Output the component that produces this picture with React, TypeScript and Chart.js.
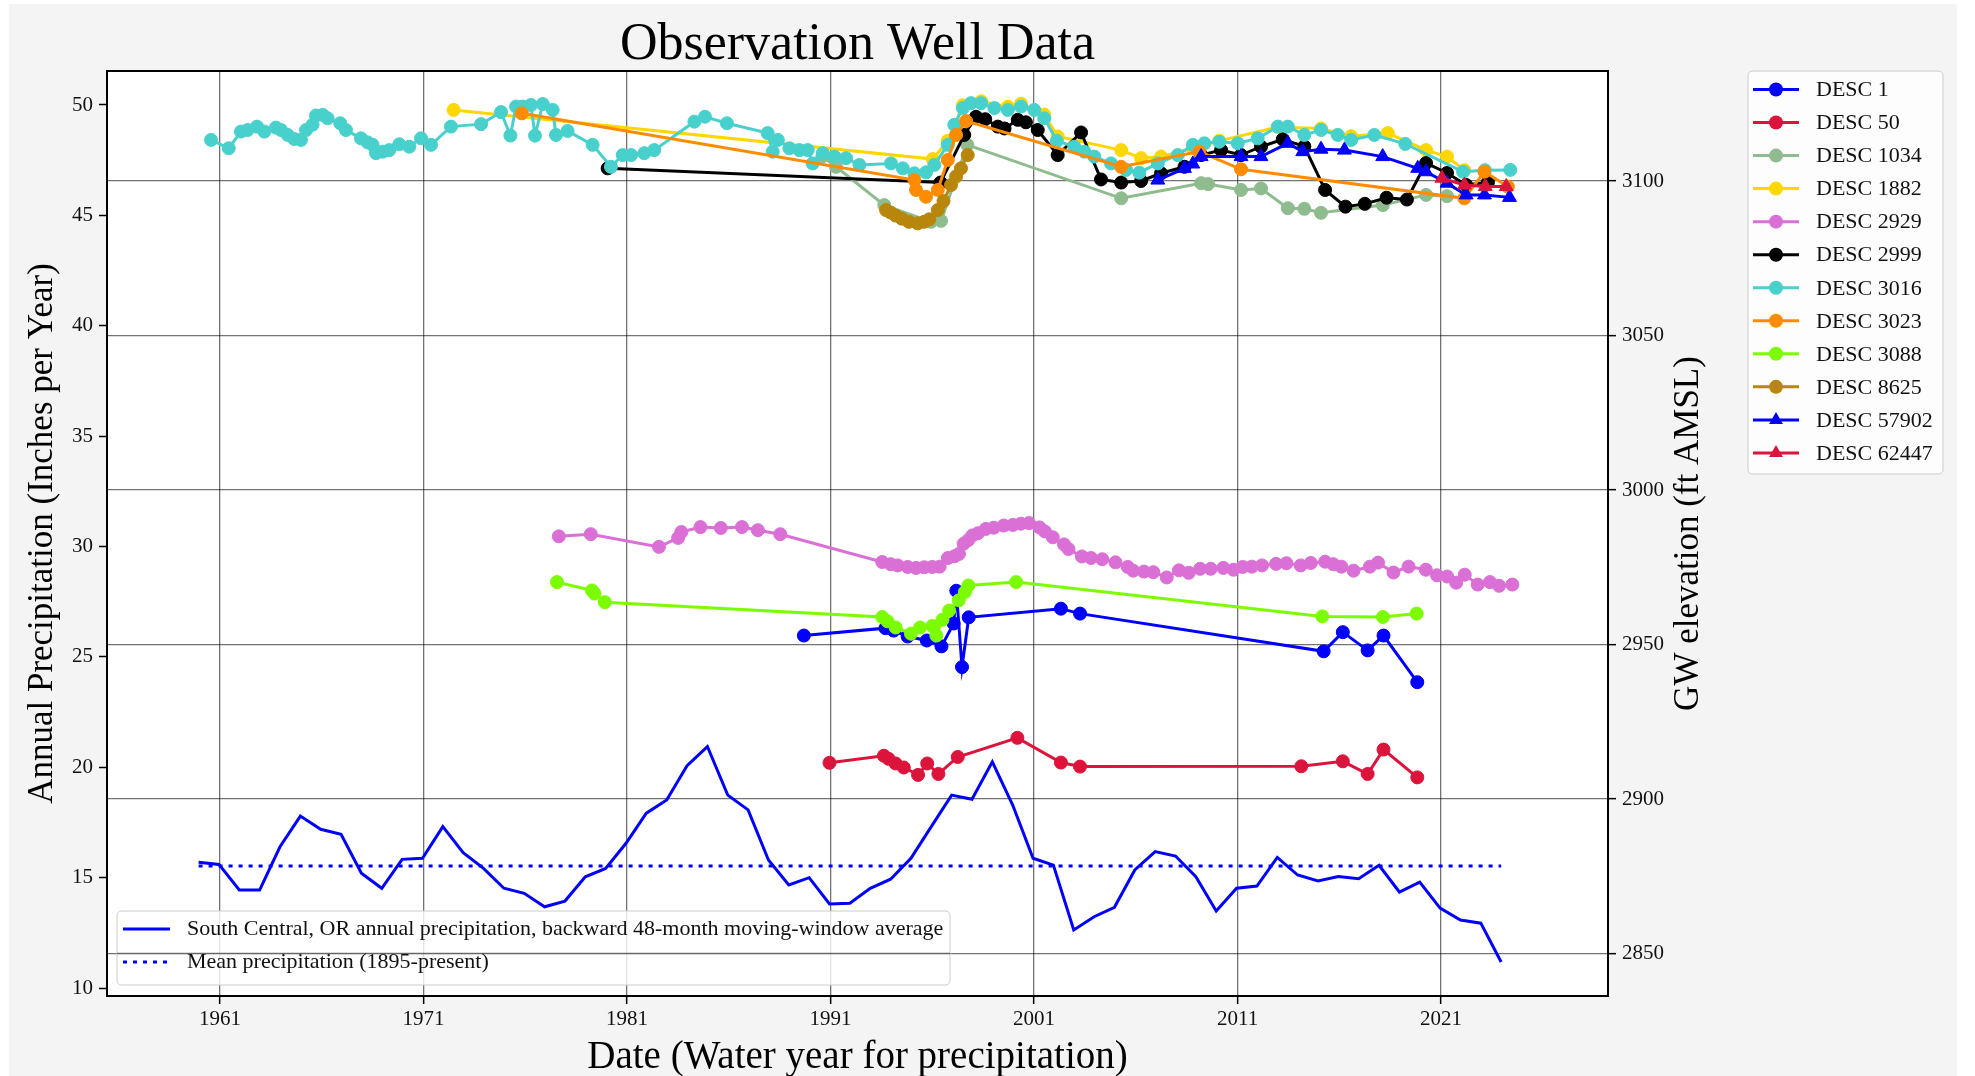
import React, { useEffect, useRef } from 'react';
import { Chart, registerables } from 'chart.js';

Chart.register(...registerables);

const W = 1975;
const H = 1076;
const SERIF = '"Liberation Serif", "Times New Roman", Times, serif';
const FIG_BG = '#f4f4f4';
const GRID = 'rgba(0,0,0,0.55)';

// ---------- axes ----------
const xTicks = [1961, 1971, 1981, 1991, 2001, 2011, 2021];
const precipTicks = [10, 15, 20, 25, 30, 35, 40, 45, 50];
const elevTicks = [2850, 2900, 2950, 3000, 3050, 3100];

// ---------- precipitation (left axis) ----------
const precipYears = [
  1959.95, 1960.95, 1961.95, 1962.95, 1963.95, 1964.95, 1965.95, 1966.95, 1967.95, 1968.95,
  1969.95, 1970.95, 1971.95, 1972.95, 1973.95, 1974.95, 1975.95, 1976.95, 1977.95, 1978.95,
  1979.95, 1980.95, 1981.95, 1982.95, 1983.95, 1984.95, 1985.95, 1986.95, 1987.95, 1988.95,
  1989.95, 1990.95, 1991.95, 1992.95, 1993.95, 1994.95, 1995.95, 1996.95, 1997.95, 1998.95,
  1999.95, 2000.95, 2001.95, 2002.95, 2003.95, 2004.95, 2005.95, 2006.95, 2007.95, 2008.95,
  2009.95, 2010.95, 2011.95, 2012.95, 2013.95, 2014.95, 2015.95, 2016.95, 2017.95, 2018.95,
  2019.95, 2020.95, 2021.95, 2022.95, 2023.95,
];
const precipValues = [
  15.70, 15.60, 14.44, 14.44, 16.40, 17.79, 17.19, 16.96, 15.20, 14.52,
  15.83, 15.88, 17.31, 16.13, 15.42, 14.52, 14.29, 13.68, 13.94, 15.04,
  15.42, 16.56, 17.92, 18.52, 20.07, 20.94, 18.74, 18.07, 15.80, 14.67,
  15.00, 13.81, 13.84, 14.52, 14.93, 15.88, 17.31, 18.74, 18.55, 20.25,
  18.29, 15.88, 15.57, 12.63, 13.23, 13.66, 15.35, 16.18, 15.98, 15.04,
  13.49, 14.52, 14.62, 15.92, 15.12, 14.85, 15.05, 14.95, 15.56, 14.35,
  14.80, 13.62, 13.08, 12.94, 11.18,
];
const meanPrecipYears = [1959.95, 2023.95];
const meanPrecipValue = 15.53;

// ---------- wells (right axis, ft AMSL) ----------
const desc1Years = [1989.69, 1993.70, 1994.10, 1994.79, 1995.73, 1996.45, 1997.05, 1997.18, 1997.46, 1997.79, 2002.32, 2003.26, 2015.23, 2016.17, 2017.39, 2018.17, 2019.83];
const desc1Elev = [2952.9, 2955.3, 2954.5, 2952.6, 2951.3, 2949.4, 2956.8, 2967.4, 2942.7, 2958.8, 2961.6, 2960.0, 2947.8, 2954.0, 2948.1, 2952.9, 2937.8];

const desc50Years = [1990.95, 1993.62, 1993.85, 1994.20, 1994.60, 1995.30, 1995.75, 1996.30, 1997.25, 2000.18, 2002.32, 2003.26, 2014.13, 2016.17, 2017.39, 2018.17, 2019.83];
const desc50Elev = [2911.7, 2914.0, 2913.0, 2911.5, 2910.2, 2907.8, 2911.5, 2908.1, 2913.6, 2919.8, 2911.8, 2910.5, 2910.6, 2912.2, 2908.1, 2916.0, 2907.0];

const desc1034Years = [1990.60, 1991.27, 1993.64, 1995.94, 1996.43, 1997.72, 2005.28, 2009.21, 2009.55, 2011.17, 2012.15, 2013.47, 2014.28, 2015.10, 2018.14, 2020.26, 2021.29];
const desc1034Elev = [3108.0, 3104.6, 3092.2, 3086.8, 3087.1, 3111.7, 3094.4, 3099.3, 3099.0, 3097.1, 3097.6, 3091.2, 3091.0, 3089.7, 3092.2, 3095.5, 3095.1];

const desc1882Years = [1972.48, 1996.02, 1996.76, 1997.50, 1998.40, 1999.71, 2000.36, 2001.50, 2002.16, 2005.28, 2006.26, 2007.24, 2008.80, 2010.10, 2012.98, 2015.10, 2016.58, 2018.38, 2020.26, 2021.29, 2022.14];
const desc1882Elev = [3123.0, 3107.1, 3113.0, 3124.5, 3125.8, 3124.0, 3125.0, 3121.5, 3114.4, 3110.0, 3107.4, 3107.9, 3110.5, 3113.0, 3117.5, 3117.0, 3114.5, 3115.5, 3110.0, 3107.9, 3103.5];

const desc2929Years = [
  1977.65, 1979.22, 1982.57, 1983.51, 1983.67, 1984.61, 1985.61, 1986.65, 1987.43, 1988.53,
  1993.54, 1993.95, 1994.30, 1994.79, 1995.20, 1995.60, 1996.00, 1996.36, 1996.77, 1997.10,
  1997.31, 1997.54, 1997.77, 1997.97, 1998.24, 1998.63, 1999.02, 1999.51, 1999.96, 2000.35,
  2000.75, 2001.27, 2001.53, 2001.92, 2002.47, 2002.69, 2003.35, 2003.80, 2004.35, 2005.00,
  2005.60, 2005.87, 2006.40, 2006.86, 2007.52, 2008.12, 2008.60, 2009.16, 2009.68, 2010.30,
  2010.80, 2011.25, 2011.70, 2012.20, 2012.89, 2013.40, 2014.10, 2014.60, 2015.30, 2015.70,
  2016.10, 2016.70, 2017.50, 2017.90, 2018.66, 2019.40, 2020.25, 2020.80, 2021.30, 2021.74,
  2022.16, 2022.80, 2023.40, 2023.85, 2024.50,
];
const desc2929Elev = [
  2985.0, 2985.7, 2981.6, 2984.5, 2986.4, 2988.0, 2987.7, 2988.0, 2987.0, 2985.7,
  2976.7, 2976.0, 2975.6, 2975.1, 2974.8, 2975.0, 2975.1, 2975.2, 2978.0, 2978.6,
  2979.3, 2982.6, 2983.8, 2985.3, 2986.0, 2987.4, 2987.8, 2988.5, 2988.7, 2989.1,
  2989.3, 2987.9, 2986.6, 2984.7, 2982.4, 2980.9, 2978.5, 2978.0, 2977.6, 2976.6,
  2975.1, 2973.9, 2973.6, 2973.4, 2971.7, 2974.0, 2973.2, 2974.5, 2974.5, 2974.8,
  2974.2, 2975.1, 2975.2, 2975.6, 2976.1, 2976.3, 2975.6, 2976.4, 2976.8, 2976.0,
  2975.2, 2973.9, 2975.2, 2976.5, 2973.3, 2975.2, 2974.2, 2972.4, 2972.0, 2970.0,
  2972.6, 2969.4, 2970.2, 2969.0, 2969.4,
];

const desc2999Years = [1980.05, 1996.40, 1997.57, 1998.15, 1998.60, 1999.22, 1999.55, 2000.20, 2000.60, 2001.18, 2002.16, 2003.31, 2004.29, 2005.28, 2006.26, 2007.24, 2008.39, 2009.21, 2010.19, 2011.17, 2012.15, 2013.22, 2014.28, 2015.30, 2016.30, 2017.25, 2018.32, 2019.32, 2020.26, 2021.29, 2022.23, 2023.30];
const desc2999Elev = [3104.1, 3099.5, 3114.9, 3120.8, 3120.0, 3117.6, 3117.0, 3119.8, 3119.0, 3116.5, 3108.4, 3115.7, 3100.5, 3099.5, 3100.0, 3102.5, 3104.6, 3108.4, 3110.0, 3108.4, 3111.1, 3113.5, 3111.2, 3097.1, 3091.7, 3092.6, 3094.6, 3094.0, 3105.8, 3102.6, 3098.7, 3099.6];

const desc3016Years = [
  1960.56, 1961.43, 1962.03, 1962.36, 1962.82, 1963.18, 1963.75, 1964.00, 1964.33, 1964.65,
  1964.98, 1965.23, 1965.55, 1965.72, 1966.05, 1966.29, 1966.91, 1967.19, 1967.93, 1968.26,
  1968.50, 1968.67, 1969.00, 1969.32, 1969.81, 1970.30, 1970.88, 1971.37, 1972.35, 1973.83,
  1974.81, 1975.27, 1975.55, 1975.87, 1976.28, 1976.48, 1976.86, 1977.35, 1977.51, 1978.08,
  1979.31, 1980.21, 1980.79, 1981.20, 1981.85, 1982.34, 1984.31, 1984.83, 1985.91, 1987.91,
  1988.16, 1988.41, 1988.98, 1989.47, 1989.88, 1990.12, 1990.62, 1991.19, 1991.76, 1992.42,
  1993.97, 1994.55, 1995.12, 1995.69, 1996.10, 1996.76, 1997.08, 1997.50, 1997.90, 1998.40,
  1999.05, 1999.71, 2000.36, 2001.01, 2001.50, 2002.12, 2002.98, 2003.47, 2003.96, 2004.78,
  2005.52, 2006.17, 2007.08, 2008.06, 2008.80, 2009.37, 2010.10, 2011.01, 2011.99, 2012.98,
  2013.47, 2014.28, 2015.10, 2015.92, 2016.58, 2017.72, 2019.24, 2022.08, 2023.15, 2024.40,
];
const desc3016Elev = [
  3113.3, 3110.6, 3116.0, 3116.5, 3117.6, 3116.0, 3117.3, 3116.5, 3114.9, 3113.6,
  3113.3, 3116.5, 3118.2, 3121.2, 3121.4, 3120.3, 3118.7, 3116.5, 3113.8, 3112.5,
  3111.7, 3109.0, 3109.5, 3110.0, 3111.9, 3111.1, 3113.8, 3111.7, 3117.6, 3118.4,
  3122.3, 3114.7, 3124.1, 3124.1, 3124.6, 3114.7, 3124.9, 3123.0, 3114.9, 3116.2,
  3111.7, 3104.6, 3108.4, 3108.4, 3109.0, 3110.0, 3119.2, 3120.8, 3118.7, 3115.5,
  3109.5, 3113.3, 3110.6, 3110.0, 3110.0, 3105.7, 3109.0, 3107.9, 3107.4, 3105.2,
  3105.7, 3104.1, 3102.5, 3102.8, 3105.2, 3111.7, 3118.2, 3123.6, 3125.2, 3125.2,
  3123.6, 3123.0, 3124.1, 3123.0, 3120.3, 3113.0, 3111.1, 3109.5, 3107.9, 3105.7,
  3103.6, 3102.7, 3105.7, 3108.4, 3111.7, 3112.2, 3112.7, 3112.2, 3113.8, 3117.6,
  3117.6, 3114.9, 3116.5, 3114.9, 3113.3, 3114.9, 3112.0, 3103.0, 3103.5, 3103.6,
];

const desc3023Years = [1975.83, 1995.12, 1995.20, 1995.69, 1996.27, 1996.76, 1997.17, 1997.66, 2005.28, 2009.12, 2011.17, 2022.14, 2023.13, 2024.28];
const desc3023Elev = [3121.9, 3100.3, 3097.1, 3094.9, 3097.1, 3106.8, 3114.9, 3119.4, 3104.6, 3109.5, 3103.8, 3094.4, 3103.0, 3098.2];

const desc3088Years = [1977.56, 1979.28, 1979.40, 1979.91, 1993.54, 1993.80, 1994.20, 1994.95, 1995.40, 1996.00, 1996.20, 1996.50, 1996.83, 1997.30, 1997.60, 1997.77, 2000.12, 2015.16, 2018.14, 2019.80];
const desc3088Elev = [2970.2, 2967.5, 2966.5, 2963.7, 2958.9, 2957.5, 2955.5, 2953.5, 2955.5, 2956.0, 2952.9, 2958.0, 2961.0, 2964.3, 2967.0, 2969.1, 2970.2, 2959.1, 2958.9, 2960.0];

const desc8625Years = [1993.73, 1993.95, 1994.20, 1994.50, 1994.85, 1995.28, 1995.60, 1995.85, 1996.27, 1996.55, 1996.92, 1997.17, 1997.41, 1997.74];
const desc8625Elev = [3090.6, 3089.8, 3088.8, 3087.8, 3086.8, 3086.3, 3086.8, 3087.6, 3090.6, 3093.5, 3098.7, 3101.5, 3104.1, 3108.4];

const desc57902Years = [2007.08, 2008.39, 2008.80, 2009.21, 2011.17, 2012.15, 2013.47, 2014.20, 2015.10, 2016.25, 2018.13, 2019.85, 2020.26, 2021.29, 2022.23, 2023.13, 2024.36];
const desc57902Elev = [3100.3, 3104.1, 3105.5, 3107.9, 3107.9, 3107.9, 3112.2, 3109.5, 3110.3, 3110.0, 3107.9, 3104.1, 3103.0, 3099.3, 3095.5, 3095.5, 3094.7];

const desc62447Years = [2021.04, 2022.15, 2023.17, 2024.20];
const desc62447Elev = [3100.9, 3098.7, 3098.2, 3098.2];

type Well = { label: string; years: number[]; elev: number[]; color: string; marker: 'circle' | 'triangle' };
const wells: Well[] = [
  { label: 'DESC 1', years: desc1Years, elev: desc1Elev, color: '#0000ff', marker: 'circle' },
  { label: 'DESC 50', years: desc50Years, elev: desc50Elev, color: '#dc143c', marker: 'circle' },
  { label: 'DESC 1034', years: desc1034Years, elev: desc1034Elev, color: '#8fbc8f', marker: 'circle' },
  { label: 'DESC 1882', years: desc1882Years, elev: desc1882Elev, color: '#ffd700', marker: 'circle' },
  { label: 'DESC 2929', years: desc2929Years, elev: desc2929Elev, color: '#da70d6', marker: 'circle' },
  { label: 'DESC 2999', years: desc2999Years, elev: desc2999Elev, color: '#000000', marker: 'circle' },
  { label: 'DESC 3016', years: desc3016Years, elev: desc3016Elev, color: '#48d1cc', marker: 'circle' },
  { label: 'DESC 3023', years: desc3023Years, elev: desc3023Elev, color: '#ff8c00', marker: 'circle' },
  { label: 'DESC 3088', years: desc3088Years, elev: desc3088Elev, color: '#7cfc00', marker: 'circle' },
  { label: 'DESC 8625', years: desc8625Years, elev: desc8625Elev, color: '#b8860b', marker: 'circle' },
  { label: 'DESC 57902', years: desc57902Years, elev: desc57902Elev, color: '#0000ff', marker: 'triangle' },
  { label: 'DESC 62447', years: desc62447Years, elev: desc62447Elev, color: '#dc143c', marker: 'triangle' },
];

const precipLabel = 'South Central, OR annual precipitation, backward 48-month moving-window average';
const meanLabel = 'Mean precipitation (1895-present)';

const pts = (xs: number[], ys: number[]) => xs.map((x, i) => ({ x, y: ys[i] }));

const CIRCLE_R = 6.5;
const TRI_R = 8;
const LINE_W = 3;

function drawMarker(ctx: CanvasRenderingContext2D, style: string, x: number, y: number, color: string) {
  ctx.beginPath();
  if (style === 'triangle') {
    let rad = 0;
    const step = (2 * Math.PI) / 3;
    ctx.moveTo(x + Math.sin(rad) * TRI_R, y - Math.cos(rad) * TRI_R);
    rad += step;
    ctx.lineTo(x + Math.sin(rad) * TRI_R, y - Math.cos(rad) * TRI_R);
    rad += step;
    ctx.lineTo(x + Math.sin(rad) * TRI_R, y - Math.cos(rad) * TRI_R);
    ctx.closePath();
  } else {
    ctx.arc(x, y, CIRCLE_R + 0.5, 0, Math.PI * 2);
  }
  ctx.fillStyle = color;
  ctx.fill();
}

function roundRect(ctx: CanvasRenderingContext2D, x: number, y: number, w: number, h: number, r: number) {
  ctx.beginPath();
  ctx.moveTo(x + r, y);
  ctx.lineTo(x + w - r, y);
  ctx.quadraticCurveTo(x + w, y, x + w, y + r);
  ctx.lineTo(x + w, y + h - r);
  ctx.quadraticCurveTo(x + w, y + h, x + w - r, y + h);
  ctx.lineTo(x + r, y + h);
  ctx.quadraticCurveTo(x, y + h, x, y + h - r);
  ctx.lineTo(x, y + r);
  ctx.quadraticCurveTo(x, y, x + r, y);
  ctx.closePath();
}

const decorPlugin = {
  id: 'decor',
  beforeDraw(chart: any) {
    const { ctx, chartArea: a } = chart;
    ctx.save();
    ctx.fillStyle = '#ffffff';
    ctx.fillRect(0, 0, W, H);
    ctx.fillStyle = FIG_BG;
    ctx.fillRect(9, 4, 1948, H - 4);
    ctx.fillStyle = '#ffffff';
    ctx.fillRect(a.left, a.top, a.right - a.left, a.bottom - a.top);
    ctx.restore();
  },
  beforeDatasetsDraw(chart: any) {
    const { ctx, chartArea: a } = chart;
    // precipitation legend (lower left, inside plot)
    const bx = a.left + 10;
    const by = a.bottom - 85;
    const bw = 833;
    const bh = 74;
    ctx.save();
    roundRect(ctx, bx, by, bw, bh, 5);
    ctx.fillStyle = 'rgba(255,255,255,0.8)';
    ctx.fill();
    ctx.strokeStyle = '#cccccc';
    ctx.lineWidth = 1;
    ctx.stroke();
    // right-axis gridline shows through (drawn above in the original)
    const gy = chart.scales.y2.getPixelForValue(2850);
    ctx.beginPath();
    ctx.moveTo(bx, gy);
    ctx.lineTo(bx + bw, gy);
    ctx.strokeStyle = GRID;
    ctx.lineWidth = 1.3;
    ctx.stroke();
    const rows = [by + 18, by + 51];
    ctx.strokeStyle = '#0000ff';
    ctx.lineWidth = LINE_W;
    ctx.beginPath();
    ctx.moveTo(bx + 6, rows[0]);
    ctx.lineTo(bx + 53, rows[0]);
    ctx.stroke();
    ctx.setLineDash([4, 6]);
    ctx.lineWidth = 3;
    ctx.beginPath();
    ctx.moveTo(bx + 6, rows[1]);
    ctx.lineTo(bx + 53, rows[1]);
    ctx.stroke();
    ctx.setLineDash([]);
    ctx.fillStyle = '#111';
    ctx.font = `22px ${SERIF}`;
    ctx.textAlign = 'left';
    ctx.textBaseline = 'middle';
    ctx.fillText(precipLabel, bx + 70, rows[0]);
    ctx.fillText(meanLabel, bx + 70, rows[1]);
    ctx.restore();
  },
  afterDatasetsDraw(chart: any) {
    const { ctx, chartArea: a } = chart;
    ctx.save();
    ctx.strokeStyle = '#000';
    ctx.lineWidth = 2;
    ctx.strokeRect(a.left, a.top, a.right - a.left, a.bottom - a.top);
    ctx.restore();
  },
  afterDraw(chart: any) {
    const { ctx, chartArea: a } = chart;
    const cx = (a.left + a.right) / 2;
    const cy = (a.top + a.bottom) / 2;
    ctx.save();
    ctx.fillStyle = '#000';
    ctx.textAlign = 'center';
    ctx.textBaseline = 'alphabetic';
    ctx.font = `52px ${SERIF}`;
    ctx.fillText('Observation Well Data', cx, 59);
    ctx.font = `39px ${SERIF}`;
    ctx.fillText('Date (Water year for precipitation)', cx, 1068);

    ctx.font = `35px ${SERIF}`;
    ctx.textBaseline = 'middle';
    ctx.save();
    ctx.translate(43, cy);
    ctx.rotate(-Math.PI / 2);
    ctx.fillText('Annual Precipitation (Inches per Year)', 0, 0);
    ctx.restore();
    ctx.save();
    ctx.translate(1689, cy);
    ctx.rotate(-Math.PI / 2);
    ctx.fillText('GW elevation (ft AMSL)', 0, 0);
    ctx.restore();

    // wells legend (outside, upper right)
    const lx = 1748;
    const ly = 71;
    const lw = 195;
    const lh = 403;
    roundRect(ctx, lx, ly, lw, lh, 5);
    ctx.fillStyle = 'rgba(255,255,255,0.8)';
    ctx.fill();
    ctx.strokeStyle = '#cccccc';
    ctx.lineWidth = 1;
    ctx.stroke();
    ctx.font = `22px ${SERIF}`;
    ctx.textAlign = 'left';
    ctx.textBaseline = 'middle';
    wells.forEach((w, i) => {
      const y = ly + 18.5 + i * 33.04;
      ctx.strokeStyle = w.color;
      ctx.lineWidth = LINE_W;
      ctx.beginPath();
      ctx.moveTo(lx + 5, y);
      ctx.lineTo(lx + 51, y);
      ctx.stroke();
      drawMarker(ctx, w.marker, lx + 28, y, w.color);
      ctx.fillStyle = '#111';
      ctx.fillText(w.label, lx + 68, y + 1);
    });
    ctx.restore();
  },
};

export default function App() {
  const ref = useRef<HTMLCanvasElement>(null);
  useEffect(() => {
    document.body.style.margin = '0';
    const canvas = ref.current;
    if (!canvas) return;
    const tickFont = { family: SERIF, size: 21 };
    const datasets: any[] = [
      {
        label: precipLabel,
        data: pts(precipYears, precipValues),
        yAxisID: 'y',
        borderColor: '#0000ff',
        backgroundColor: '#0000ff',
        borderWidth: LINE_W,
        pointRadius: 0,
        tension: 0,
        fill: false,
        order: 200,
      },
      {
        label: meanLabel,
        data: pts(meanPrecipYears, meanPrecipYears.map(() => meanPrecipValue)),
        yAxisID: 'y',
        borderColor: '#0000ff',
        borderWidth: 3,
        borderDash: [4, 6],
        pointRadius: 0,
        tension: 0,
        fill: false,
        order: 199,
      },
      ...wells.map((w, i) => ({
        label: w.label,
        data: pts(w.years, w.elev),
        yAxisID: 'y2',
        borderColor: w.color,
        backgroundColor: w.color,
        borderWidth: LINE_W,
        pointStyle: w.marker,
        pointRadius: w.marker === 'triangle' ? TRI_R : CIRCLE_R,
        pointBorderWidth: 1,
        pointBorderColor: w.color,
        pointBackgroundColor: w.color,
        tension: 0,
        fill: false,
        order: 100 - i,
      })),
    ];
    const chart = new Chart(canvas, {
      type: 'line',
      data: { datasets },
      plugins: [decorPlugin],
      options: {
        responsive: false,
        animation: false,
        devicePixelRatio: 1,
        events: [],
        layout: { padding: { top: 71, left: 0, right: 0, bottom: 0 } },
        plugins: {
          legend: { display: false },
          title: { display: false },
          tooltip: { enabled: false },
        },
        scales: {
          x: {
            type: 'linear',
            position: 'bottom',
            min: 1955.45,
            max: 2029.2,
            afterBuildTicks: (s: any) => {
              s.ticks = xTicks.map((v) => ({ value: v }));
            },
            afterFit: (s: any) => {
              s.height = 80;
            },
            ticks: {
              font: tickFont,
              color: '#111',
              padding: 3,
              maxRotation: 0,
              autoSkip: false,
              callback: (v: any) => String(v),
            },
            grid: { color: GRID, lineWidth: 1.3, tickLength: 8, tickColor: '#000', tickWidth: 1.5 },
            border: { display: false },
          },
          y: {
            type: 'linear',
            position: 'left',
            min: 9.64,
            max: 51.54,
            afterBuildTicks: (s: any) => {
              s.ticks = precipTicks.map((v) => ({ value: v }));
            },
            afterFit: (s: any) => {
              s.width = 107;
            },
            ticks: { font: tickFont, color: '#111', padding: 6, callback: (v: any) => String(v) },
            grid: { drawOnChartArea: false, tickLength: 8, tickColor: '#000', tickWidth: 1.5 },
            border: { display: false },
          },
          y2: {
            type: 'linear',
            position: 'right',
            min: 2836.25,
            max: 3135.6,
            afterBuildTicks: (s: any) => {
              s.ticks = elevTicks.map((v) => ({ value: v }));
            },
            afterFit: (s: any) => {
              s.width = 367;
            },
            ticks: { font: tickFont, color: '#111', padding: 6, callback: (v: any) => String(v) },
            grid: { color: GRID, lineWidth: 1.3, tickLength: 8, tickColor: '#000', tickWidth: 1.5 },
            border: { display: false },
          },
        },
      } as any,
    });
    return () => chart.destroy();
  }, []);
  return (
    <div style={{ position: 'fixed', left: 0, top: 0, width: W, height: H, background: '#fff' }}>
      <canvas ref={ref} width={W} height={H} style={{ display: 'block', width: W, height: H }} />
    </div>
  );
}
